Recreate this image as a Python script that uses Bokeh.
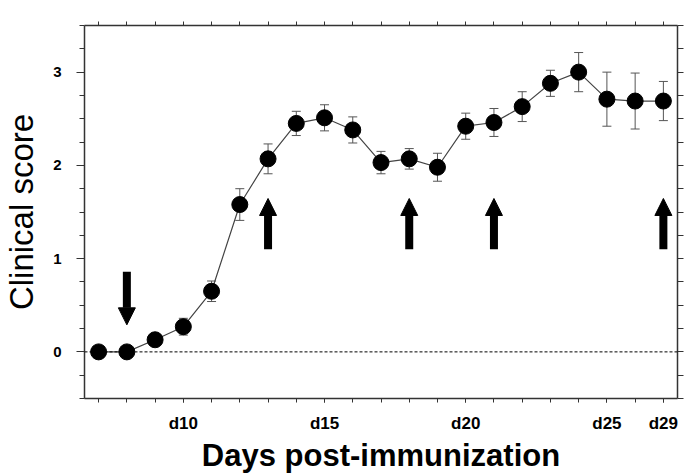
from bokeh.plotting import figure
from bokeh.models import (ColumnDataSource, FixedTicker, LinearAxis, Span, Whisker,
                          TeeHead, Arrow, NormalHead)
from bokeh.embed import file_html
from bokeh.resources import INLINE

# ---- data -------------------------------------------------------------
x_pos = [7, 8, 9, 10, 11, 12, 13, 14, 15, 16, 17, 18, 19, 20, 21, 22, 23, 24, 25, 26, 27]
score = [0.0, 0.0, 0.13, 0.27, 0.65, 1.58, 2.07, 2.45, 2.51, 2.38, 2.03, 2.07, 1.98,
         2.42, 2.46, 2.63, 2.88, 3.00, 2.71, 2.69, 2.69]
sem = [0.0, 0.0, 0.04, 0.09, 0.11, 0.17, 0.16, 0.13, 0.14, 0.14, 0.12, 0.11, 0.15,
       0.14, 0.15, 0.16, 0.14, 0.21, 0.29, 0.30, 0.21]

x_tick_pos = [10, 15, 20, 25, 27]
x_tick_labels = ["d10", "d15", "d20", "d25", "d29"]

y_major = [0, 1, 2, 3]
y_major_labels = ["0", "1", "2", "3"]
y_minor = [-0.5, -0.25, 0.25, 0.5, 0.75, 1.25, 1.5, 1.75, 2.25, 2.5, 2.75, 3.25, 3.5]
y_all = [-0.5, -0.25, 0, 0.25, 0.5, 0.75, 1, 1.25, 1.5, 1.75, 2, 2.25, 2.5, 2.75,
         3, 3.25, 3.5]

down_arrow_x = [8]
down_arrow_from = [0.86]
down_arrow_to = [0.29]
up_arrow_x = [13, 18, 21, 27]
up_arrow_from = [1.10, 1.10, 1.10, 1.10]
up_arrow_to = [1.645, 1.645, 1.645, 1.645]

x_title = "Days post-immunization"
y_title = "Clinical score"

FONT = "Liberation Sans"
AX = "#333333"

src = ColumnDataSource(dict(
    x=x_pos, y=score,
    lo=[s - e for s, e in zip(score, sem)],
    hi=[s + e for s, e in zip(score, sem)],
))

p = figure(width=685, height=476, x_range=(6.5, 27.5), y_range=(-0.5, 3.5),
           output_backend="svg", toolbar_location=None,
           min_border_left=81, min_border_right=8, min_border_top=25, min_border_bottom=78,
           x_axis_label=x_title, y_axis_label=y_title)
p.outline_line_color = None
p.grid.visible = False
p.background_fill_color = "white"
p.border_fill_color = "white"

# bottom axis
xa = p.xaxis[0]
xa.ticker = FixedTicker(ticks=x_tick_pos, minor_ticks=x_pos)
xa.major_label_overrides = {t: l for t, l in zip(x_tick_pos, x_tick_labels)}
xa.major_tick_in = 0
xa.major_tick_out = 4
xa.minor_tick_in = 0
xa.minor_tick_out = 4
xa.axis_line_color = AX
xa.axis_line_width = 1.5
xa.major_tick_line_color = AX
xa.minor_tick_line_color = AX
xa.major_label_text_font = FONT
xa.major_label_text_font_style = "bold"
xa.major_label_text_font_size = "17px"
xa.major_label_text_color = "black"
xa.major_label_standoff = 11
xa.axis_label_text_font = FONT
xa.axis_label_text_font_style = "bold"
xa.axis_label_text_font_size = "31px"
xa.axis_label_text_color = "black"
xa.axis_label_standoff = 2

# left axis
ya = p.yaxis[0]
ya.ticker = FixedTicker(ticks=y_major, minor_ticks=y_minor)
ya.major_label_overrides = {t: l for t, l in zip(y_major, y_major_labels)}
ya.major_tick_in = 0
ya.major_tick_out = 8
ya.minor_tick_in = 0
ya.minor_tick_out = 5
ya.axis_line_color = AX
ya.axis_line_width = 1.5
ya.major_tick_line_color = AX
ya.minor_tick_line_color = AX
ya.major_label_text_font = FONT
ya.major_label_text_font_style = "bold"
ya.major_label_text_font_size = "15px"
ya.major_label_text_color = "black"
ya.major_label_standoff = 15
ya.axis_label_text_font = FONT
ya.axis_label_text_font_style = "normal"
ya.axis_label_text_font_size = "33px"
ya.axis_label_text_color = "black"
ya.axis_label_standoff = 10

# mirror axes (ticks only, no labels)
top = LinearAxis(ticker=FixedTicker(ticks=[], minor_ticks=x_pos),
                 major_tick_in=0, major_tick_out=0, minor_tick_in=0, minor_tick_out=4,
                 axis_line_color=AX, axis_line_width=1.5, minor_tick_line_color=AX)
p.add_layout(top, "above")
right = LinearAxis(ticker=FixedTicker(ticks=[], minor_ticks=y_all),
                   major_tick_in=0, major_tick_out=0, minor_tick_in=0, minor_tick_out=6,
                   axis_line_color=AX, axis_line_width=1.5, minor_tick_line_color=AX)
p.add_layout(right, "right")

# zero reference line
p.add_layout(Span(location=0, dimension="width", line_color="black",
                  line_width=1, line_dash="3 2"))

# error bars
p.add_layout(Whisker(source=src, base="x", upper="hi", lower="lo",
                     line_color="#555555", line_width=1,
                     upper_head=TeeHead(size=9, line_color="#555555", line_width=1),
                     lower_head=TeeHead(size=9, line_color="#555555", line_width=1)))

p.line("x", "y", source=src, line_color="#444444", line_width=1.2)
p.scatter("x", "y", source=src, size=16, fill_color="black", line_color="black")

# arrows
asrc_down = ColumnDataSource(dict(x=down_arrow_x, y0=down_arrow_from, y1=down_arrow_to))
asrc_up = ColumnDataSource(dict(x=up_arrow_x, y0=up_arrow_from, y1=up_arrow_to))
for s in (asrc_down, asrc_up):
    p.add_layout(Arrow(source=s, x_start="x", y_start="y0", x_end="x", y_end="y1",
                       line_color="black", line_width=8,
                       end=NormalHead(size=17, fill_color="black", line_color="black",
                                      line_width=1)))

open("out.html", "w").write(file_html(p, INLINE))
